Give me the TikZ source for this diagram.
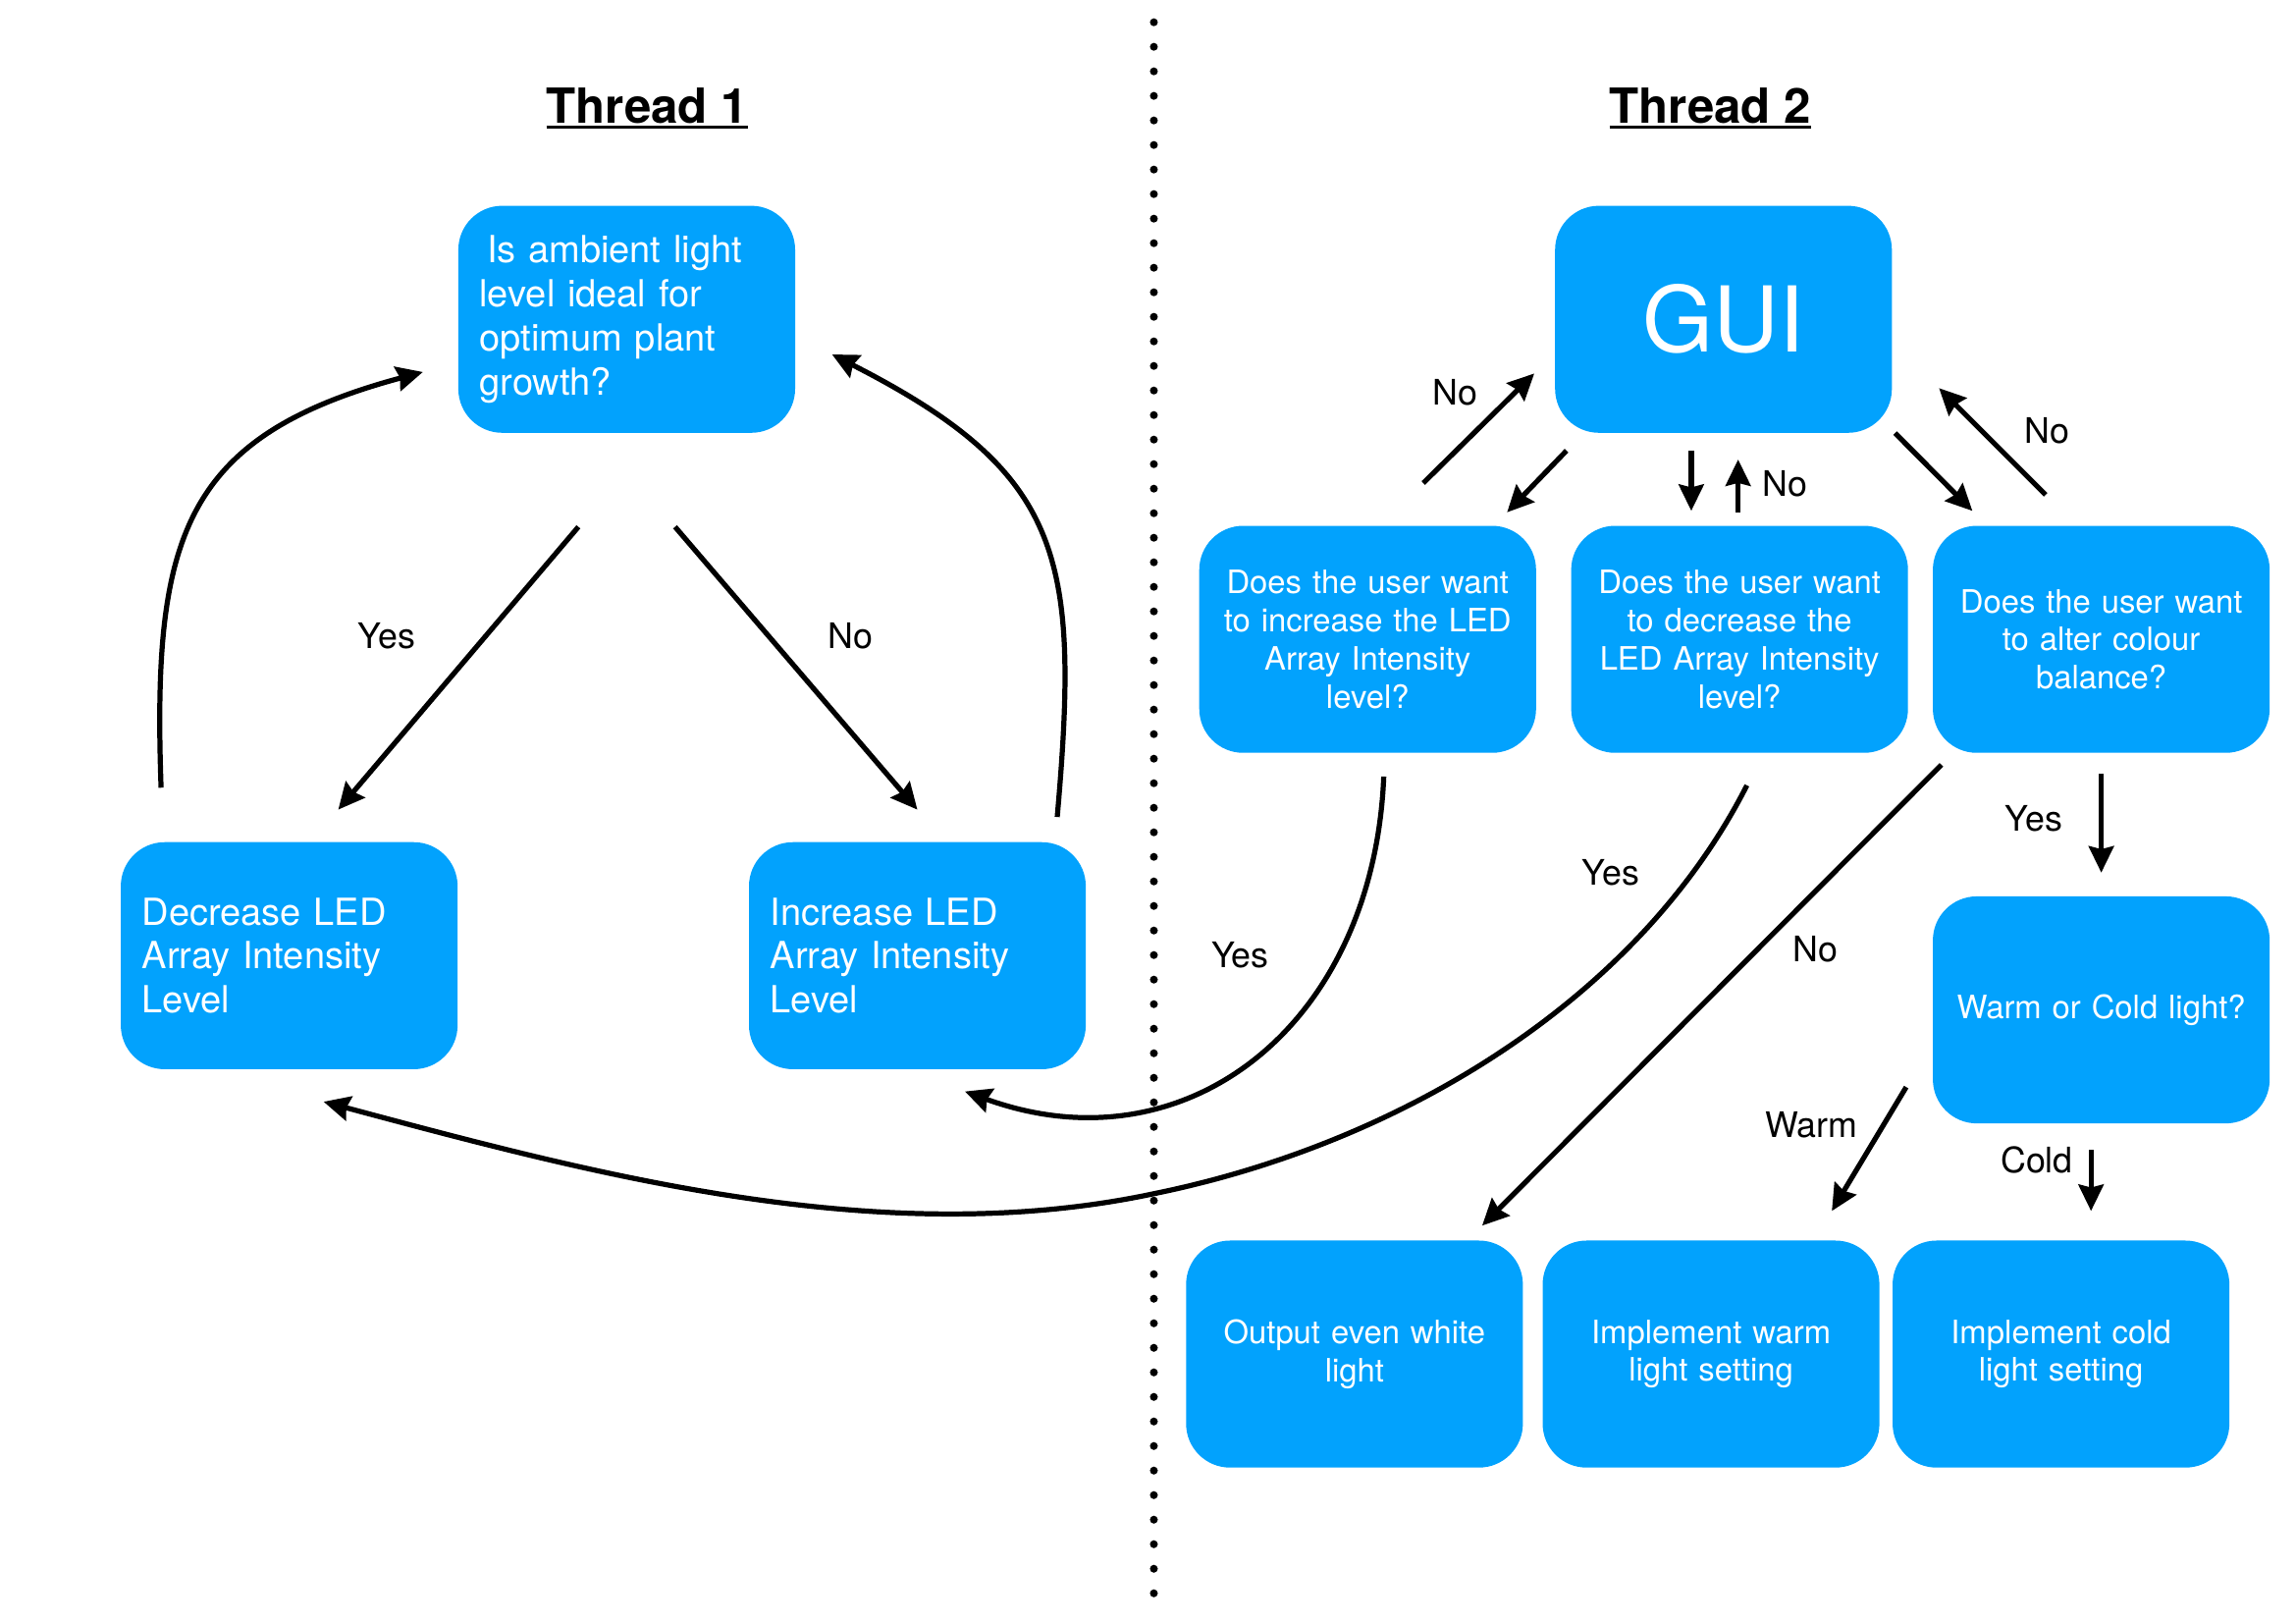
\documentclass[tikz,border=0pt]{standalone}
\usepackage{fontspec}
\setmainfont{TeX Gyre Heros}
\usetikzlibrary{arrows.meta,calc}

\definecolor{boxblue}{RGB}{2,162,253}
\newcommand{\titleline}[1]{\setbox0=\hbox{#1}\rlap{\rule[-4pt]{\wd0}{2.5pt}}\box0}

\tikzset{
  box/.style={rectangle,rounded corners=30pt,fill=boxblue,text=white,
    minimum width=230pt,minimum height=155pt,inner sep=0pt},
  bigtxt/.style={font=\fontsize{25.5}{30}\selectfont,text width=201pt,align=left},
  smalltxt/.style={font=\fontsize{22}{26}\selectfont,text width=224pt,align=center},
  lbl/.style={font=\fontsize{24}{28}\selectfont,inner sep=0pt},
  title/.style={font=\fontsize{33}{40}\selectfont\bfseries,inner sep=0pt},
  arr/.style={line width=3.5pt,-{Stealth[length=18pt,width=17pt,inset=2pt]}},
}

\begin{document}
\begin{tikzpicture}[x=1pt,y=1pt]
\useasboundingbox (0,0) rectangle (1568,-1108.1);

% divider between the threads
\draw[line width=5.4pt,line cap=round,dash pattern=on 0pt off 16.76pt] (788,-15.2) -- (788,-1088);

\node[title] (t1) at (442,-74) {\titleline{Thread 1}};
\node[title] (t2) at (1168,-74) {\titleline{Thread 2}};

% thread 1
\node[box,bigtxt] (ambient) at (428,-218) {\hspace*{5pt}Is ambient light\\level ideal for\\optimum plant\\growth?};
\node[box,bigtxt] (dec) at (197.5,-652.5) {Decrease LED\\Array Intensity\\Level};
\node[box,bigtxt] (inc) at (626.5,-652.5) {Increase LED\\Array Intensity\\Level};

\draw[arr] ($(ambient.south)+(-33,-64)$) -- ($(dec.north)+(33.5,22)$);
\draw[arr] ($(ambient.south)+(33,-64)$) -- ($(inc.north)+(0,22)$);
\node[lbl] (yes1) at (264,-434) {Yes};
\node[lbl] (no1) at (581,-434) {No};
\draw[arr] ($(dec.north)+(-87.5,37)$) to[out=92,in=195,looseness=1.3] ($(ambient.west)+(-24,-36)$);
\draw[arr] ($(inc.north)+(95.5,17)$) to[out=85,in=-27,looseness=1.3] ($(ambient.east)+(25,-24)$);

% thread 2
\node[box,font=\fontsize{62}{70}\selectfont] (gui) at (1177,-218) {GUI};
\node[box,smalltxt] (incq) at (934,-436.5) {Does the user want\\to increase the LED\\Array Intensity\\level?};
\node[box,smalltxt] (decq) at (1188,-436.5) {Does the user want\\to decrease the\\LED Array Intensity\\level?};
\node[box,smalltxt] (colq) at (1435,-436.5) {Does the user want\\to alter colour\\balance?};
\node[box,smalltxt] (wc) at (1435,-689.5) {Warm or Cold light?};
\node[box,smalltxt] (white) at (925,-924.5) {Output even white\\light};
\node[box,smalltxt] (warm) at (1168.5,-924.5) {Implement warm\\light setting};
\node[box,smalltxt] (cold) at (1407.5,-924.5) {Implement cold\\light setting};

\draw[arr] ($(gui.south west)+(8,-12)$) -- ($(incq.north east)+(-20,9)$);
\draw[arr] ($(incq.north)+(38,29)$) -- ($(gui.west)+(-14,-37)$);
\node[lbl] (no2) at (994,-268) {No};
\draw[arr] ($(gui.south)+(-22,-12)$) -- ($(decq.north)+(-33,10)$);
\draw[arr] ($(decq.north)+(-1,9)$) -- ($(gui.south)+(10,-18)$);
\node[lbl] (no3) at (1219,-330) {No};
\draw[arr] ($(gui.south east)+(2,0)$) -- ($(colq.north)+(-88,10)$);
\draw[arr] ($(colq.north)+(-38,21)$) -- ($(gui.east)+(32,-47)$);
\node[lbl] (no4) at (1398,-294) {No};

\draw[arr] ($(incq.south)+(11,-16)$) .. controls (938,-700) and (810,-800) .. ($(inc.south)+(32.5,-15)$);
\node[lbl] (yes2) at (847,-652) {Yes};
\draw[arr] ($(decq.south)+(5,-22)$) .. controls (1120,-680) and (960,-780) .. (788,-815)
  .. controls (600,-855) and (400,-800) .. ($(dec.south)+(23.5,-22)$);
\node[lbl] (yes3) at (1100,-596) {Yes};
\draw[arr] ($(colq.south west)+(6,-8)$) -- ($(white.north east)+(-28,10)$);
\node[lbl] (no5) at (1240,-648) {No};
\draw[arr] ($(colq.south)+(0,-14)$) -- ($(wc.north)+(0,16)$);
\node[lbl] (yes4) at (1389,-559) {Yes};
\draw[arr] ($(wc.south west)+(-18,25)$) -- ($(warm.north)+(82.5,20)$);
\node[lbl] (warml) at (1237,-768) {Warm};
\draw[arr] ($(wc.south)+(-7,-18)$) -- ($(cold.north)+(20.5,20)$);
\node[lbl] (coldl) at (1391,-792) {Cold};
\end{tikzpicture}
\end{document}
